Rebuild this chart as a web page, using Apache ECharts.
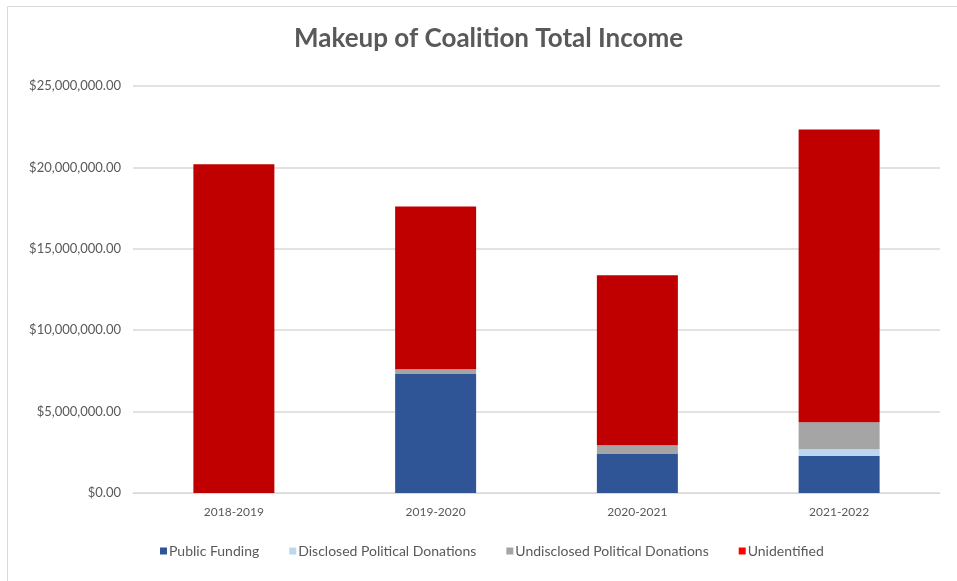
<!DOCTYPE html>
<html>
<head>
<meta charset="utf-8">
<script src="https://cdn.jsdelivr.net/npm/echarts@6/dist/echarts.min.js"></script>
<style>
  html, body { margin: 0; padding: 0; background: #fff; }
  #chart { width: 957px; height: 581px; }
</style>
</head>
<body>
<div id="chart"></div>
<script>
// Financial years
const years = ['2018-2019', '2019-2020', '2020-2021', '2021-2022'];

// Income components (AUD)
const publicFunding = [0, 7310000, 2420000, 2270000];
const disclosedDonations = [0, 0, 0, 410000];
const undisclosedDonations = [0, 290000, 510000, 1660000];
const unidentified = [20190000, 10000000, 10440000, 17990000];

const seriesNames = ['Public Funding', 'Disclosed Political Donations', 'Undisclosed Political Donations', 'Unidentified'];
const seriesColors = ['#2F5597', '#BDD7EE', '#A5A5A5', '#C00000'];
const legendColors = ['#2F5597', '#BDD7EE', '#A5A5A5', '#FF0000'];
const seriesData = [publicFunding, disclosedDonations, undisclosedDonations, unidentified];

const fontFamily = 'Lato, "Open Sans", sans-serif';
const textColor = '#595959';

function money(v) {
  return '$' + Number(v).toLocaleString('en-US', { minimumFractionDigits: 2, maximumFractionDigits: 2 });
}

const chart = echarts.init(document.getElementById('chart'));
chart.setOption({
  animation: false,
  backgroundColor: '#ffffff',
  textStyle: { fontFamily: fontFamily },
  graphic: [{
    type: 'rect',
    shape: { x: 7.5, y: 6.5, width: 960, height: 580 },
    style: { fill: 'none', stroke: '#d9d9d9', lineWidth: 1 },
    silent: true,
    z: -1
  }],
  title: {
    text: 'Makeup of Coalition Total Income',
    left: 294,
    top: 26,
    padding: 0,
    textStyle: { fontFamily: fontFamily, fontSize: 26, fontWeight: 'bold', color: textColor }
  },
  legend: {
    bottom: 23,
    left: 160,
    padding: 0,
    itemWidth: 7,
    itemHeight: 7,
    itemGap: 30,
    icon: 'rect',
    textStyle: { fontFamily: fontFamily, fontSize: 14, color: textColor, padding: [0, 0, 0, -3] },
    data: seriesNames.map((n, i) => ({ name: n, itemStyle: { color: legendColors[i] } }))
  },
  grid: { left: 133, right: 17, top: 86, bottom: 88, containLabel: false },
  xAxis: {
    type: 'category',
    data: years,
    axisLine: { lineStyle: { color: '#d9d9d9', width: 1 } },
    axisTick: { show: false },
    axisLabel: { color: textColor, fontSize: 12, margin: 13, fontFamily: fontFamily }
  },
  yAxis: {
    type: 'value',
    min: 0,
    max: 25000000,
    interval: 5000000,
    axisLine: { show: false },
    axisTick: { show: false },
    splitLine: { lineStyle: { color: '#d9d9d9', width: 1.5 } },
    axisLabel: { color: textColor, fontSize: 13, margin: 12, fontFamily: fontFamily, formatter: money }
  },
  series: seriesNames.map((n, i) => ({
    name: n,
    type: 'bar',
    stack: 'income',
    barWidth: 81,
    itemStyle: { color: seriesColors[i] },
    data: seriesData[i]
  }))
});
</script>
</body>
</html>
